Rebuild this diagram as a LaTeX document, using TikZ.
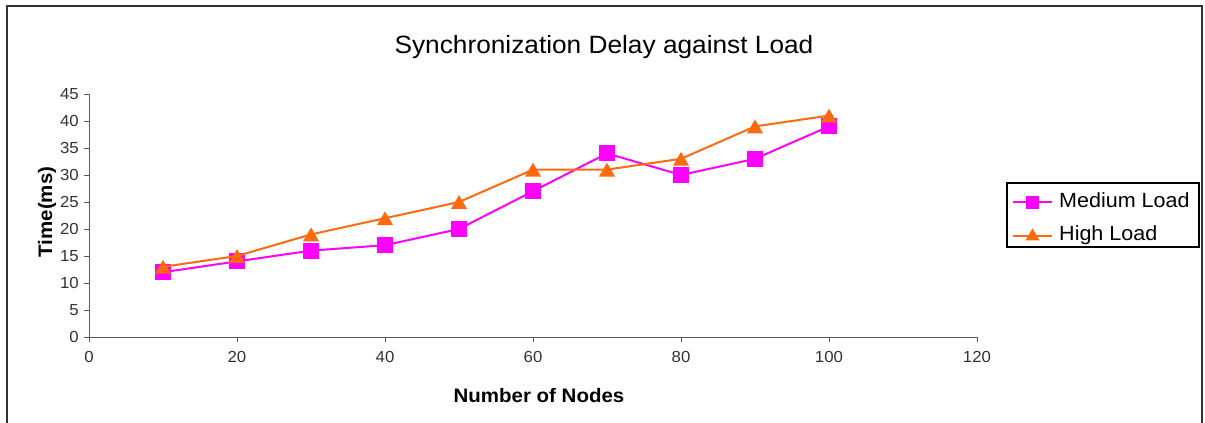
\documentclass[tikz,border=0pt]{standalone}
\usepackage{fontspec}
\setmainfont{Liberation Sans}[FakeStretch=1.05]
\usetikzlibrary{shapes.geometric}
\definecolor{medcol}{HTML}{FF00FF}
\definecolor{highcol}{HTML}{FF6A0E}
\definecolor{axiscol}{HTML}{5A5A5A}
\begin{document}
\begin{tikzpicture}[x=1pt, y=-1pt,
  ticklab/.style={font=\fontsize{16}{18}\selectfont, text=black!80, inner sep=0pt},
  axlab/.style={font=\fontsize{19.5}{22}\selectfont\bfseries, inner sep=0pt},
  leglab/.style={font=\fontsize{20.5}{22}\selectfont, inner sep=0pt, anchor=base west},
  medline/.style={draw=medcol, line width=2pt},
  highline/.style={draw=highcol, line width=2pt},
  medmark/.style={rectangle, fill=medcol, minimum size=16pt, inner sep=0pt},
  highmark/.style={regular polygon, regular polygon sides=3, fill=highcol, minimum size=18.5pt, inner sep=0pt, yshift=-2.3pt}]
  \useasboundingbox (0,0) rectangle (1205,423);
  % frame, bottom edge cut off
  \draw[line width=2pt, black!80] (7,423) -- (7,6) -- (1202,6) -- (1202,423);
  \node[font=\fontsize{25}{28}\selectfont, anchor=base] (title) at (604,53) {Synchronization Delay against Load};
  % axes and data
  \begin{scope}[shift={(89pt,-337pt)}, x=7.4pt, y=5.4pt]
    \draw[axiscol, line width=1pt] (0,45) -- (0,0) -- (120,0);
    \foreach \v in {0,5,...,45} {
      \draw[axiscol, line width=1pt] (0,\v) -- ++(-5pt,0);
      \node[ticklab, anchor=east] (yt\v) at ([xshift=-10pt]0,\v) {\v};
    }
    \foreach \v in {0,20,...,120} {
      \draw[axiscol, line width=1pt] (\v,0) -- ++(0,-5pt);
      \node[ticklab] (xt\v) at ([yshift=-20pt]\v,0) {\v};
    }
    \foreach \x/\y in {10/12,20/14,30/16,40/17,50/20,60/27,70/34,80/30,90/33,100/39}
      \coordinate (m\x) at (\x,\y);
    \foreach \x/\y in {10/13,20/15,30/19,40/22,50/25,60/31,70/31,80/33,90/39,100/41}
      \coordinate (h\x) at (\x,\y);
  \end{scope}
  \draw[medline] (m10) \foreach \x in {20,30,...,100} { -- (m\x) };
  \foreach \x in {10,20,...,100}
    \node[medmark] (mm\x) at (m\x) {};
  \draw[highline] (h10) \foreach \x in {20,30,...,100} { -- (h\x) };
  \foreach \x in {10,20,...,100}
    \node[highmark] (hm\x) at (h\x) {};
  \node[axlab, anchor=base] (xlab) at (539,402) {Number of Nodes};
  \node[axlab, anchor=base, rotate=90] (ylab) at (52,212) {Time(ms)};
  % legend
  \node[draw, line width=1.2pt, minimum width=192pt, minimum height=64pt, inner sep=0pt] (legend) at (1103,215) {};
  \coordinate (lm1) at (1013,202);
  \coordinate (lm2) at (1052,202);
  \draw[medline] (lm1) -- (lm2);
  \node[medmark, minimum size=13pt] (lmk) at (1032.5,202) {};
  \node[leglab] (lmt) at (1059,207.5) {Medium Load};
  \coordinate (lh1) at (1013,236);
  \coordinate (lh2) at (1052,236);
  \draw[highline] (lh1) -- (lh2);
  \node[highmark, minimum size=16pt] (lhk) at (1032.5,234) {};
  \node[leglab] (lht) at (1059,240) {High Load};
\end{tikzpicture}
\end{document}
